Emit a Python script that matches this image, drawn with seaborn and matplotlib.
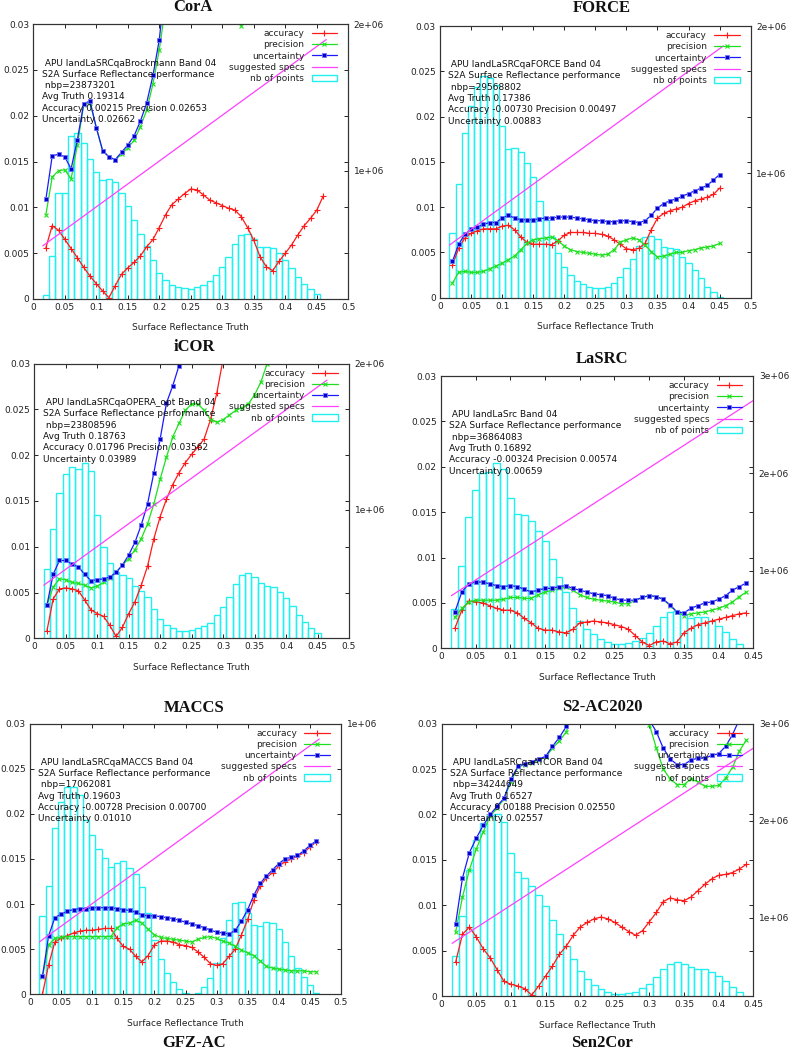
import matplotlib
matplotlib.use("Agg")
import matplotlib.pyplot as plt
import seaborn as sns
from matplotlib.lines import Line2D
from matplotlib.patches import Rectangle
from matplotlib.ticker import FuncFormatter

sns.set_style("ticks")
plt.rcParams['font.family'] = ['DejaVu Sans']

# ---------------- data ----------------
# truth bins (centre of each 0.01 reflectance bin)
X_BINS = [0.02, 0.03, 0.04, 0.05, 0.06, 0.07, 0.08, 0.09, 0.10, 0.11,
          0.12, 0.13, 0.14, 0.15, 0.16, 0.17, 0.18, 0.19, 0.20, 0.21,
          0.22, 0.23, 0.24, 0.25, 0.26, 0.27, 0.28, 0.29, 0.30, 0.31,
          0.32, 0.33, 0.34, 0.35, 0.36, 0.37, 0.38, 0.39, 0.40, 0.41,
          0.42, 0.43, 0.44, 0.45, 0.46]

# CorA
cora_acc = [0.0056, 0.0080, 0.0075, 0.0065, 0.0055, 0.0045, 0.00345, 0.0025, 0.00167, 0.00087,
            0.00015, 0.00145, 0.0027, 0.0034, 0.0040, 0.0047, 0.0057, 0.0065, 0.0078, 0.0092,
            0.0103, 0.0109, 0.0115, 0.0120, 0.0119, 0.01135, 0.0108, 0.0105, 0.0102, 0.0099,
            0.0097, 0.0090, 0.0078, 0.0064, 0.0046, 0.0035, 0.0031, 0.0041, 0.0050, 0.0059,
            0.0070, 0.0080, 0.0088, 0.0097, 0.0112]
cora_prec = [0.0092, 0.0133, 0.0140, 0.0141, 0.0131, 0.0168, 0.0212, 0.0214, 0.0187, 0.0162,
             0.0155, 0.0152, 0.0158, 0.0165, 0.0173, 0.0188, 0.0206, 0.0235, 0.0272, 0.0320,
             0.0345, 0.0370, 0.0390, 0.0400, 0.0395, 0.0380, 0.0360, 0.0340, 0.0325, 0.0315,
             0.0310, 0.0298, 0.0312, 0.0330, 0.0350, 0.0360, 0.0370, 0.0380, 0.0390, 0.0400,
             0.0410, 0.0420, 0.0430, 0.0440, 0.0450]
cora_unc = [0.0109, 0.0156, 0.0158, 0.0155, 0.0142, 0.0174, 0.0213, 0.0216, 0.0187, 0.0162,
            0.0155, 0.0152, 0.0160, 0.0168, 0.0178, 0.0194, 0.0214, 0.0244, 0.0283, 0.0348,
            0.0370, 0.0390, 0.0410, 0.0420, 0.0415, 0.0400, 0.0380, 0.0360, 0.0345, 0.0332,
            0.0322, 0.0308, 0.0322, 0.0340, 0.0360, 0.0370, 0.0380, 0.0390, 0.0400, 0.0410,
            0.0420, 0.0430, 0.0440, 0.0450, 0.0460]
cora_hist = [0.152, 0.418, 0.845, 0.850, 1.236, 1.255, 1.186, 1.077, 0.989, 0.936,
             0.943, 0.920, 0.850, 0.760, 0.666, 0.570, 0.484, 0.391, 0.305, 0.255,
             0.220, 0.205, 0.198, 0.193, 0.205, 0.220, 0.248, 0.289, 0.345, 0.409,
             0.498, 0.561, 0.568, 0.534, 0.482, 0.477, 0.470, 0.436, 0.391, 0.339,
             0.277, 0.227, 0.191, 0.157]
cora_spec_x = [0.015, 0.465]
cora_spec_y = [0.0058, 0.0283]

# FORCE
force_acc = [0.0036, 0.00545, 0.0066, 0.0071, 0.0074, 0.0076, 0.0076, 0.0076, 0.0079, 0.0080,
             0.0075, 0.0067, 0.0061, 0.0059, 0.0059, 0.0059, 0.00585, 0.0063, 0.0069, 0.0072,
             0.0072, 0.0072, 0.0071, 0.0071, 0.0070, 0.0068, 0.0064, 0.0059, 0.0054, 0.0053,
             0.00545, 0.0060, 0.0075, 0.0088, 0.0093, 0.0096, 0.0098, 0.0100, 0.0104, 0.0107,
             0.0109, 0.0111, 0.0114, 0.0121]
force_prec = [0.0016, 0.0028, 0.0029, 0.0028, 0.0028, 0.0029, 0.0032, 0.0035, 0.0038, 0.0042,
              0.0046, 0.0053, 0.0060, 0.0064, 0.0065, 0.0066, 0.0067, 0.0063, 0.0057, 0.0053,
              0.0051, 0.0050, 0.0049, 0.0048, 0.0047, 0.0048, 0.0053, 0.0061, 0.0064, 0.0066,
              0.0064, 0.0058, 0.0051, 0.0045, 0.0046, 0.0048, 0.0050, 0.0050, 0.0052, 0.0053,
              0.0055, 0.0056, 0.0057, 0.0060]
force_unc = [0.0040, 0.0059, 0.0070, 0.00755, 0.0078, 0.0081, 0.0083, 0.0083, 0.0088, 0.0091,
             0.0088, 0.0086, 0.0086, 0.0086, 0.0087, 0.0088, 0.0088, 0.0089, 0.0089, 0.0089,
             0.0088, 0.0087, 0.0086, 0.0085, 0.0085, 0.0084, 0.0084, 0.0085, 0.0085, 0.0084,
             0.0083, 0.0085, 0.0091, 0.0099, 0.0104, 0.0107, 0.0109, 0.0112, 0.0115, 0.0118,
             0.0121, 0.0124, 0.0130, 0.0136]
force_hist = [0.593, 0.928, 1.271, 1.457, 1.584, 1.661, 1.645, 1.600, 1.321, 1.167,
              1.172, 1.143, 1.068, 0.973, 0.812, 0.683, 0.570, 0.457, 0.367, 0.308,
              0.269, 0.247, 0.231, 0.219, 0.219, 0.231, 0.253, 0.299, 0.355, 0.416,
              0.507, 0.566, 0.575, 0.552, 0.502, 0.491, 0.484, 0.434, 0.389, 0.344,
              0.287, 0.231, 0.192, 0.163]
force_spec_x = [0.015, 0.456]
force_spec_y = [0.0058, 0.0278]

# iCOR
icor_acc = [0.0008, 0.0043, 0.0054, 0.0055, 0.0054, 0.0052, 0.0042, 0.0031, 0.0027, 0.0024,
            0.0014, 0.0002, 0.0012, 0.0027, 0.0040, 0.0058, 0.0079, 0.0109, 0.0133, 0.0152,
            0.0168, 0.0181, 0.0192, 0.0201, 0.0209, 0.0218, 0.0239, 0.0268, 0.0305, 0.0340,
            0.0370, 0.0400, 0.0430, 0.0450, 0.0470, 0.0480, 0.0490, 0.0500, 0.0510, 0.0520,
            0.0530, 0.0540, 0.0550, 0.0560]
icor_prec = [0.0036, 0.0056, 0.0065, 0.0064, 0.0061, 0.0060, 0.0058, 0.0055, 0.0057, 0.0061,
             0.0066, 0.0072, 0.0080, 0.0087, 0.0097, 0.0109, 0.0125, 0.0147, 0.0174, 0.0198,
             0.0220, 0.0235, 0.0249, 0.0256, 0.0256, 0.0249, 0.0239, 0.0236, 0.0239, 0.0244,
             0.0249, 0.0252, 0.0256, 0.0266, 0.0280, 0.0300, 0.0325, 0.0350, 0.0370, 0.0390,
             0.0410, 0.0430, 0.0450, 0.0470]
icor_unc = [0.0036, 0.0070, 0.0085, 0.0085, 0.0081, 0.0078, 0.0070, 0.0063, 0.0064, 0.0065,
            0.0067, 0.0072, 0.0080, 0.0091, 0.0105, 0.0124, 0.0147, 0.0181, 0.0218, 0.0257,
            0.0276, 0.0298, 0.0325, 0.0340, 0.0345, 0.0350, 0.0355, 0.0370, 0.0390, 0.0420,
            0.0450, 0.0480, 0.0500, 0.0520, 0.0540, 0.0560, 0.0580, 0.0600, 0.0620, 0.0630,
            0.0640, 0.0650, 0.0660, 0.0670]
icor_hist = [0.596, 0.868, 1.114, 1.244, 1.295, 1.281, 1.320, 1.269, 0.963, 0.749,
             0.635, 0.578, 0.555, 0.532, 0.482, 0.447, 0.402, 0.320, 0.251, 0.212,
             0.189, 0.174, 0.174, 0.178, 0.189, 0.203, 0.228, 0.281, 0.338, 0.406,
             0.493, 0.555, 0.566, 0.539, 0.498, 0.479, 0.470, 0.436, 0.395, 0.342,
             0.281, 0.231, 0.189, 0.155]
icor_spec_x = [0.015, 0.465]
icor_spec_y = [0.0058, 0.0282]

# LaSRC
lasrc_acc = [0.0022, 0.0042, 0.0052, 0.0051, 0.0050, 0.0047, 0.0044, 0.0042, 0.0042, 0.0039,
             0.0033, 0.0028, 0.0022, 0.0020, 0.0020, 0.0018, 0.0017, 0.0021, 0.0028, 0.0029,
             0.0030, 0.0029, 0.0028, 0.0026, 0.0024, 0.0021, 0.0014, 0.0007, 0.0003, 0.0007,
             0.0008, 0.0005, 0.0007, 0.0017, 0.0022, 0.0026, 0.0028, 0.0030, 0.0032, 0.0034,
             0.0036, 0.0038, 0.0039]
lasrc_prec = [0.0034, 0.0044, 0.0051, 0.0053, 0.0053, 0.0053, 0.0053, 0.0054, 0.0056, 0.0056,
              0.0055, 0.0055, 0.0059, 0.0062, 0.0064, 0.0066, 0.0067, 0.0064, 0.0059, 0.0056,
              0.0054, 0.0053, 0.0052, 0.0051, 0.0049, 0.0049, 0.0053, 0.0056, 0.0058, 0.0057,
              0.0054, 0.0047, 0.0040, 0.0036, 0.0038, 0.0039, 0.0040, 0.0042, 0.0044, 0.0047,
              0.0051, 0.0057, 0.0062]
lasrc_unc = [0.0040, 0.0062, 0.0071, 0.0073, 0.0073, 0.0071, 0.0069, 0.0068, 0.0069, 0.0068,
             0.0065, 0.0062, 0.0064, 0.0066, 0.0066, 0.0068, 0.0069, 0.0066, 0.0064, 0.0062,
             0.0060, 0.0059, 0.0058, 0.0055, 0.0053, 0.0053, 0.0053, 0.0056, 0.0058, 0.0057,
             0.0054, 0.0048, 0.0040, 0.0039, 0.0044, 0.0047, 0.0050, 0.0051, 0.0054, 0.0058,
             0.0064, 0.0068, 0.0072]
lasrc_hist = [0.607, 1.055, 1.557, 1.831, 2.009, 2.019, 2.104, 2.043, 1.745, 1.585,
              1.574, 1.513, 1.410, 1.308, 1.120, 0.935, 0.781, 0.624, 0.491, 0.405,
              0.350, 0.303, 0.268, 0.251, 0.251, 0.265, 0.282, 0.316, 0.368, 0.439,
              0.525, 0.583, 0.593, 0.559, 0.521, 0.525, 0.525, 0.491, 0.436, 0.371,
              0.303, 0.248]
lasrc_spec_x = [0.015, 0.45]
lasrc_spec_y = [0.0058, 0.0273]

# MACCS
maccs_acc = [0.0000, 0.0033, 0.0058, 0.0062, 0.0065, 0.0068, 0.0070, 0.0071, 0.0071, 0.0072,
             0.0073, 0.0073, 0.0062, 0.0053, 0.0050, 0.0042, 0.0036, 0.0043, 0.0055, 0.0059,
             0.0059, 0.0058, 0.0055, 0.0054, 0.0052, 0.0047, 0.0041, 0.0034, 0.0032, 0.0034,
             0.0042, 0.0050, 0.0066, 0.0083, 0.0105, 0.0120, 0.0129, 0.0135, 0.0142, 0.0147,
             0.0150, 0.0153, 0.0157, 0.0163, 0.0169]
maccs_prec = [0.0019, 0.0055, 0.0062, 0.0063, 0.0064, 0.0064, 0.0064, 0.0064, 0.0064, 0.0064,
              0.0064, 0.0064, 0.0074, 0.0078, 0.0079, 0.0082, 0.0079, 0.0072, 0.0066, 0.0063,
              0.0062, 0.0061, 0.0060, 0.0059, 0.0058, 0.0061, 0.0063, 0.0064, 0.0062, 0.0059,
              0.0057, 0.0053, 0.0049, 0.0046, 0.0043, 0.0037, 0.0031, 0.0029, 0.0028, 0.0027,
              0.0026, 0.0026, 0.0026, 0.0025, 0.0025]
maccs_unc = [0.0020, 0.0065, 0.0085, 0.0089, 0.0092, 0.0094, 0.0095, 0.0095, 0.0096, 0.0096,
             0.0096, 0.0096, 0.0095, 0.0094, 0.0093, 0.0091, 0.0088, 0.0087, 0.0087, 0.0086,
             0.0085, 0.0084, 0.0082, 0.0080, 0.0078, 0.0076, 0.0074, 0.0071, 0.0069, 0.0068,
             0.0067, 0.0071, 0.0081, 0.0094, 0.0110, 0.0123, 0.0131, 0.0138, 0.0145, 0.0150,
             0.0152, 0.0154, 0.0159, 0.0165, 0.0170]
maccs_hist = [0.337, 0.440, 0.642, 0.731, 0.781, 0.781, 0.754, 0.668, 0.616, 0.568,
              0.536, 0.505, 0.521, 0.527, 0.501, 0.481, 0.436, 0.346, 0.254, 0.188,
              0.142, 0.110, 0.084, 0.070, 0.062, 0.073, 0.091, 0.122, 0.174, 0.260,
              0.323, 0.381, 0.384, 0.347, 0.306, 0.302, 0.317, 0.313, 0.291, 0.248,
              0.199, 0.157, 0.128, 0.099, 0.073]
maccs_spec_x = [0.015, 0.465]
maccs_spec_y = [0.0058, 0.0283]

# S2-AC2020
s2ac_acc = [0.0037, 0.0068, 0.0076, 0.0065, 0.0052, 0.0042, 0.0029, 0.0016, 0.0013, 0.0011,
            0.0008, 0.0001, 0.0011, 0.0022, 0.0033, 0.0046, 0.0055, 0.0067, 0.0076, 0.0081,
            0.0085, 0.0087, 0.0085, 0.0081, 0.0076, 0.0071, 0.0067, 0.0072, 0.0082, 0.0092,
            0.0104, 0.0108, 0.0106, 0.0105, 0.0109, 0.0116, 0.0123, 0.0129, 0.0133, 0.0134,
            0.0136, 0.0140, 0.0145]
s2ac_prec = [0.0070, 0.0109, 0.0139, 0.0162, 0.0181, 0.0198, 0.0207, 0.0217, 0.0236, 0.0252,
             0.0255, 0.0257, 0.0260, 0.0263, 0.0273, 0.0281, 0.0291, 0.0314, 0.0335, 0.0355,
             0.0370, 0.0380, 0.0385, 0.0385, 0.0380, 0.0365, 0.0345, 0.0315, 0.0299, 0.0273,
             0.0250, 0.0239, 0.0233, 0.0233, 0.0239, 0.0236, 0.0231, 0.0231, 0.0232, 0.0240,
             0.0252, 0.0270, 0.0282]
s2ac_unc = [0.0079, 0.0130, 0.0158, 0.0174, 0.0188, 0.0200, 0.0209, 0.0218, 0.0239, 0.0253,
            0.0256, 0.0258, 0.0261, 0.0264, 0.0275, 0.0285, 0.0297, 0.0310, 0.0345, 0.0365,
            0.0380, 0.0390, 0.0395, 0.0393, 0.0387, 0.0372, 0.0352, 0.0330, 0.0304, 0.0291,
            0.0273, 0.0261, 0.0255, 0.0255, 0.0260, 0.0262, 0.0262, 0.0265, 0.0267, 0.0275,
            0.0288, 0.0305, 0.0330]
s2ac_hist = [0.609, 1.024, 1.494, 1.803, 1.974, 2.060, 2.067, 1.991, 1.665, 1.477,
             1.408, 1.333, 1.237, 1.123, 0.979, 0.835, 0.715, 0.575, 0.455, 0.372,
             0.310, 0.266, 0.235, 0.218, 0.218, 0.232, 0.242, 0.276, 0.321, 0.396,
             0.472, 0.527, 0.544, 0.527, 0.492, 0.475, 0.475, 0.441, 0.407, 0.352,
             0.293, 0.235]
s2ac_spec_x = [0.015, 0.45]
s2ac_spec_y = [0.0058, 0.0273]

# info text printed in each panel
cora_info = [" APU landLaSRCqaBrockmann Band 04", "S2A Surface Reflectance performance",
             " nbp=23873201", "Avg Truth 0.19314", "Accuracy 0.00215 Precision 0.02653",
             "Uncertainty 0.02662"]
force_info = [" APU landLaSRCqaFORCE Band 04", "S2A Surface Reflectance performance",
              " nbp=29568802", "Avg Truth 0.17386", "Accuracy -0.00730 Precision 0.00497",
              "Uncertainty 0.00883"]
icor_info = [" APU landLaSRCqaOPERA_opt Band 04", "S2A Surface Reflectance performance",
             " nbp=23808596", "Avg Truth 0.18763", "Accuracy 0.01796 Precision 0.03562",
             "Uncertainty 0.03989"]
lasrc_info = [" APU landLaSrc Band 04", "S2A Surface Reflectance performance",
              " nbp=36864083", "Avg Truth 0.16892", "Accuracy -0.00324 Precision 0.00574",
              "Uncertainty 0.00659"]
maccs_info = [" APU landLaSRCqaMACCS Band 04", "S2A Surface Reflectance performance",
              " nbp=17062081", "Avg Truth 0.19603", "Accuracy -0.00728 Precision 0.00700",
              "Uncertainty 0.01010"]
s2ac_info = [" APU landLaSRCqaATCOR Band 04", "S2A Surface Reflectance performance",
             " nbp=34244649", "Avg Truth 0.16527", "Accuracy 0.00188 Precision 0.02550",
             "Uncertainty 0.02557"]

# ---------------- styling ----------------
W, H = 791, 1050
C_ACC, C_PREC, C_UNC = "#ff1a1a", "#1ee01e", "#1a1aff"
C_SPEC, C_HIST = "#ff40ff", "#22f0f0"
FS = 6.5

fig = plt.figure(figsize=(W / 100, H / 100), dpi=100)
fig.patch.set_facecolor("white")


def gfmt(v, pos):
    return "%g" % v


def e_fmt(v, pos):
    return "%.0e" % v


def draw_panel(box, xmax, n, acc, prec, unc, hist, spec_x, spec_y, y2lim, y2ticks, info):
    l, t, r, b = box
    ax = fig.add_axes([l / W, 1 - b / H, (r - l) / W, (b - t) / H])
    ax2 = ax.twinx()
    ax.set_zorder(ax2.get_zorder() + 1)
    ax.patch.set_visible(False)

    # histogram of number of points (right axis)
    hx = X_BINS[:len(hist)]
    ax2.bar(hx, [v * 1e6 for v in hist], width=0.01, facecolor="none",
            edgecolor=C_HIST, linewidth=1.0, align="center")
    ax2.set_ylim(*y2lim)
    ax2.set_yticks(y2ticks)
    ax2.yaxis.set_major_formatter(FuncFormatter(e_fmt))

    xs = X_BINS[:n]
    sns.lineplot(x=xs, y=acc, ax=ax, color=C_ACC, marker="+", markersize=4.5,
                 markeredgecolor=C_ACC, markeredgewidth=0.8, linewidth=0.9,
                 estimator=None, sort=False)
    sns.lineplot(x=xs, y=prec, ax=ax, color=C_PREC, marker="x", markersize=3.2,
                 markeredgecolor=C_PREC, markeredgewidth=0.8, linewidth=0.9,
                 estimator=None, sort=False)
    sns.lineplot(x=xs, y=unc, ax=ax, color=C_UNC, marker="s", markersize=3.0,
                 markerfacecolor="#0000c8", markeredgecolor="#7070ff", markeredgewidth=0.6,
                 linewidth=0.9, estimator=None, sort=False)
    sns.lineplot(x=spec_x, y=spec_y, ax=ax, color=C_SPEC, linewidth=0.9,
                 estimator=None, sort=False)

    ax.set_xlim(0, xmax)
    ax.set_ylim(0, 0.03)
    ax.set_xticks([i * 0.05 for i in range(int(round(xmax / 0.05)) + 1)])
    ax.set_yticks([0, 0.005, 0.01, 0.015, 0.02, 0.025, 0.03])
    ax.xaxis.set_major_formatter(FuncFormatter(gfmt))
    ax.yaxis.set_major_formatter(FuncFormatter(gfmt))
    ax.tick_params(axis="both", direction="in", length=3, width=0.7,
                   labelsize=FS, colors="#222222", pad=3)
    ax.tick_params(axis="x", top=True)
    ax.tick_params(axis="y", right=True)
    ax2.tick_params(axis="y", direction="in", length=3, width=0.7,
                    labelsize=FS, colors="#222222", pad=4)
    for a in (ax, ax2):
        for s in a.spines.values():
            s.set_linewidth(0.8)
            s.set_color("#333333")
    ax.set_xlabel("")
    ax.set_ylabel("")

    ax_h = b - t
    ax.text(0.5, -29 / ax_h, "Surface Reflectance Truth", transform=ax.transAxes,
            ha="center", va="center", fontsize=FS, color="#222222")

    for i, line in enumerate(info):
        ax.text(0.027, 0.858 - i * 11.3 / ax_h, line, transform=ax.transAxes,
                ha="left", va="center", fontsize=FS, color="#111111")

    handles = [
        Line2D([], [], color=C_ACC, marker="+", markersize=4.5, markeredgewidth=0.8, linewidth=0.9),
        Line2D([], [], color=C_PREC, marker="x", markersize=3.2, markeredgewidth=0.8, linewidth=0.9),
        Line2D([], [], color=C_UNC, marker="s", markersize=3.0, markerfacecolor="#0000c8",
               markeredgecolor="#7070ff", markeredgewidth=0.6, linewidth=0.9),
        Line2D([], [], color=C_SPEC, linewidth=0.9),
        Rectangle((0, 0), 1, 1, facecolor="none", edgecolor=C_HIST, linewidth=1.0),
    ]
    labels = ["accuracy", "precision", "uncertainty", "suggested specs", "nb of points"]
    leg = ax.legend(handles, labels, loc="upper right",
                    bbox_to_anchor=(1 - 11 / (r - l), 1 - 5 / ax_h),
                    frameon=False, markerfirst=False, fontsize=FS,
                    handlelength=2.85, handletextpad=0.8, labelspacing=0.25,
                    borderpad=0, borderaxespad=0)
    for txt in leg.get_texts():
        txt.set_color("#222222")
    return ax


panels = [
    ((33.3, 24, 348.3, 299), 0.5, 45, cora_acc, cora_prec, cora_unc, cora_hist,
     cora_spec_x, cora_spec_y, (0.125e6, 2e6), [1e6, 2e6], cora_info),
    ((440, 26, 750.7, 297.7), 0.5, 44, force_acc, force_prec, force_unc, force_hist,
     force_spec_x, force_spec_y, (0.156e6, 2e6), [1e6, 2e6], force_info),
    ((34.3, 363.7, 349, 638.3), 0.5, 44, icor_acc, icor_prec, icor_unc, icor_hist,
     icor_spec_x, icor_spec_y, (0.121e6, 2e6), [1e6, 2e6], icor_info),
    ((441, 376, 753.3, 648.3), 0.45, 43, lasrc_acc, lasrc_prec, lasrc_unc, lasrc_hist,
     lasrc_spec_x, lasrc_spec_y, (0.207e6, 3e6), [1e6, 2e6, 3e6], lasrc_info),
    ((30, 723.7, 341, 994.3), 0.5, 45, maccs_acc, maccs_prec, maccs_unc, maccs_hist,
     maccs_spec_x, maccs_spec_y, (0.067e6, 1e6), [1e6], maccs_info),
    ((441.7, 723.7, 753.3, 996), 0.45, 43, s2ac_acc, s2ac_prec, s2ac_unc, s2ac_hist,
     s2ac_spec_x, s2ac_spec_y, (0.197e6, 3e6), [1e6, 2e6, 3e6], s2ac_info),
]
for p in panels:
    draw_panel(*p)

titles = [("CorA", 193, 7), ("FORCE", 602, 8), ("iCOR", 194, 347), ("LaSRC", 602, 359),
          ("MACCS", 194, 708), ("S2-AC2020", 602, 707), ("GFZ-AC", 194, 1043),
          ("Sen2Cor", 602, 1043)]
for name, tx, ty in titles:
    fig.text(tx / W, 1 - ty / H, name, ha="center", va="center", fontsize=12,
             fontweight="bold", family="Liberation Serif", color="#111111")

fig.savefig("out.png", dpi=100, facecolor="white")
